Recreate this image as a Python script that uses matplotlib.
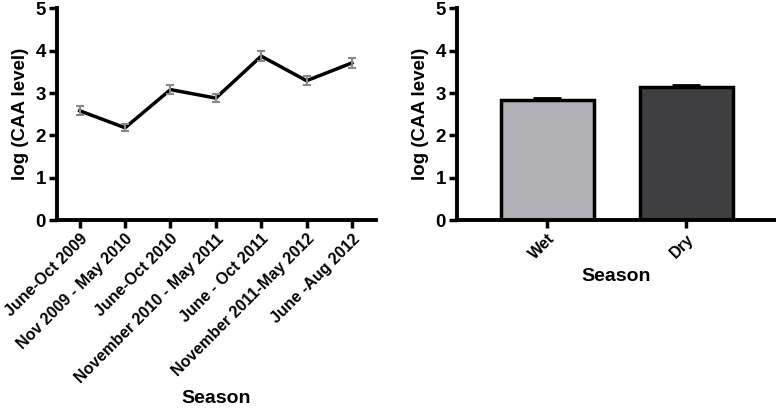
import matplotlib
matplotlib.use("Agg")
import matplotlib.pyplot as plt

plt.rcParams['font.family'] = ['Liberation Sans', 'DejaVu Sans']
plt.rcParams['font.weight'] = 'bold'

# left panel: seasons over time
seasons = ['June-Oct 2009', 'Nov 2009 - May 2010', 'June-Oct 2010',
           'November 2010 - May 2011', 'June - Oct 2011',
           'November 2011-May 2012', 'June -Aug 2012']
caa_mean = [2.58, 2.18, 3.08, 2.88, 3.87, 3.29, 3.71]
caa_err = [0.11, 0.08, 0.10, 0.09, 0.12, 0.10, 0.12]

# right panel: wet vs dry
groups = ['Wet', 'Dry']
group_mean = [2.84, 3.15]
group_err = [0.05, 0.05]
group_colors = ['#b1b0b5', '#3f3f42']

fig = plt.figure(figsize=(7.76, 4.13), dpi=100)
ax1 = fig.add_axes([0.0735, 0.467, 0.411, 0.513])
ax2 = fig.add_axes([0.589, 0.467, 0.41, 0.513])

def style_axis(ax):
    for side in ['top', 'right']:
        ax.spines[side].set_visible(False)
    for side in ['left', 'bottom']:
        ax.spines[side].set_linewidth(2.8)
    ax.tick_params(width=2.5, length=6, direction='out', pad=2)
    ax.tick_params(axis='y', labelsize=13.5)
    ax.set_ylim(0, 5)
    ax.set_yticks(range(6))
    for lab in ax.get_yticklabels():
        lab.set_fontweight('bold')
    ax.set_ylabel('log (CAA level)', fontsize=13.5, fontweight='bold', labelpad=5)

x = range(len(seasons))
ax1.plot(x, caa_mean, color='black', lw=2.5, zorder=2)
ax1.errorbar(x, caa_mean, yerr=caa_err, fmt='none', ecolor='#888888',
             elinewidth=1.5, capsize=3, capthick=1.5, zorder=3)
ax1.set_xlim(-0.5, 6.53)
ax1.set_xticks(list(x))
ax1.set_xticklabels(seasons, rotation=45, ha='right', rotation_mode='anchor',
                    fontsize=11.5, fontweight='bold')
style_axis(ax1)
ax1.set_xlabel('Season', fontsize=14, fontweight='bold')
ax1.xaxis.set_label_coords(0.5, -0.80)

xb = range(len(groups))
ax2.bar(xb, group_mean, width=0.67, color=group_colors, edgecolor='black',
        linewidth=2.5, zorder=2)
ax2.errorbar(xb, group_mean, yerr=group_err, fmt='none', ecolor='black',
             elinewidth=2, capsize=10, capthick=2, zorder=1)
ax2.set_xlim(-0.65, 1.64)
ax2.set_xticks(list(xb))
ax2.set_xticklabels(groups, rotation=45, ha='right', rotation_mode='anchor',
                    fontsize=11.5, fontweight='bold')
style_axis(ax2)
ax2.set_xlabel('Season', fontsize=14, fontweight='bold')

fig.savefig('out.png', dpi=100)
